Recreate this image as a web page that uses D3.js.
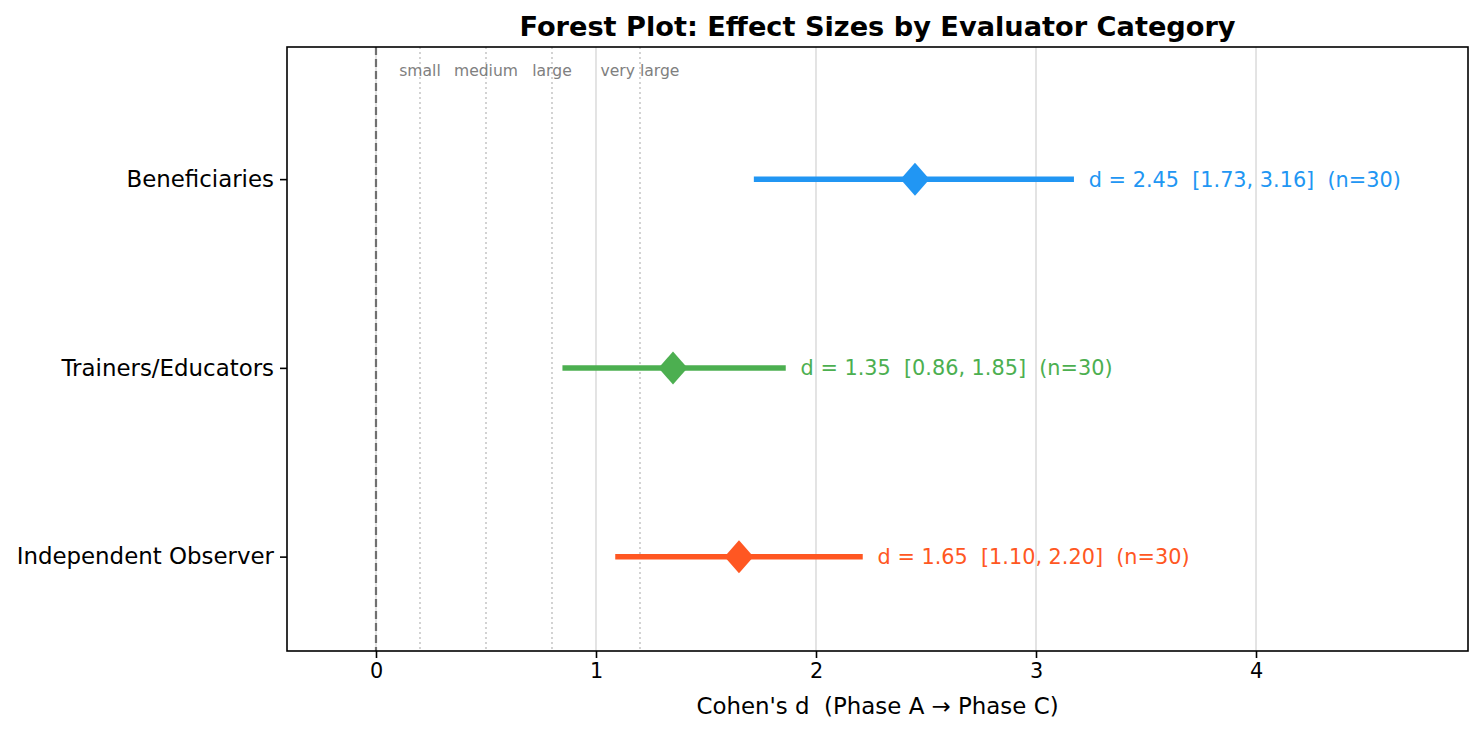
<!DOCTYPE html>
<html>
<head>
<meta charset="utf-8">
<script src="https://cdn.jsdelivr.net/npm/d3@7"></script>
<style>
  html, body { margin: 0; padding: 0; background: #fff; }
  svg { display: block; font-family: "DejaVu Sans", sans-serif; }
</style>
</head>
<body>
<svg id="chart" width="1484" height="733"></svg>
<script>
// ---- data ----
const categories = ["Independent Observer", "Trainers/Educators", "Beneficiaries"];
const effectD = [1.65, 1.35, 2.45];
const ciLow = [1.10, 0.86, 1.73];
const ciHigh = [2.20, 1.85, 3.16];
const sampleN = [30, 30, 30];
const colors = ["#FF5722", "#4CAF50", "#2196F3"];
const xTicks = [0, 1, 2, 3, 4];
const benchValues = [0.2, 0.5, 0.8, 1.2];
const benchLabels = ["small", "medium", "large", "very large"];
const titleText = "Forest Plot: Effect Sizes by Evaluator Category";
const xLabelText = "Cohen's d  (Phase A \u2192 Phase C)";

// ---- layout ----
const W = 1484, H = 733;
const m = { left: 287, right: 1468, top: 47, bottom: 651 };
const svg = d3.select("#chart");

const x = d3.scaleLinear().domain([-0.4045, 4.9636]).range([m.left, m.right]);
const y = d3.scaleLinear().domain([-0.5, 2.7]).range([m.bottom, m.top]);

// grid lines (solid, light)
svg.append("g").selectAll("line").data(xTicks).join("line")
  .attr("x1", d => x(d)).attr("x2", d => x(d))
  .attr("y1", m.top).attr("y2", m.bottom)
  .attr("stroke", "#dddddd").attr("stroke-width", 1.6);

// benchmark dotted lines
svg.append("g").selectAll("line").data(benchValues).join("line")
  .attr("x1", d => x(d)).attr("x2", d => x(d))
  .attr("y1", m.top).attr("y2", m.bottom)
  .attr("stroke", "#c8c8c8").attr("stroke-width", 1.6)
  .attr("stroke-dasharray", "2,3");

// benchmark labels
svg.append("g").selectAll("text").data(benchValues).join("text")
  .attr("x", d => x(d)).attr("y", 76)
  .attr("text-anchor", "middle")
  .attr("font-size", "15.6px").attr("fill", "#808080")
  .text((d, i) => benchLabels[i]);

// zero line
svg.append("line")
  .attr("x1", x(0)).attr("x2", x(0))
  .attr("y1", m.top).attr("y2", m.bottom)
  .attr("stroke", "#707070").attr("stroke-width", 2.2)
  .attr("stroke-dasharray", "8,4");

// CI lines
const rows = categories.map((c, i) => ({ c, i, d: effectD[i], lo: ciLow[i], hi: ciHigh[i], n: sampleN[i], col: colors[i] }));
svg.append("g").selectAll("line").data(rows).join("line")
  .attr("x1", r => x(r.lo)).attr("x2", r => x(r.hi))
  .attr("y1", r => y(r.i)).attr("y2", r => y(r.i))
  .attr("stroke", r => r.col).attr("stroke-width", 5.5)
  .attr("stroke-linecap", "square");

// diamonds
svg.append("g").selectAll("path").data(rows).join("path")
  .attr("d", r => {
    const cx = x(r.d), cy = y(r.i), hw = 14.5, hh = 16.5;
    return `M${cx},${cy - hh}L${cx + hw},${cy}L${cx},${cy + hh}L${cx - hw},${cy}Z`;
  })
  .attr("fill", r => r.col);

// annotations
svg.append("g").selectAll("text").data(rows).join("text")
  .attr("x", r => x(r.hi + 0.08)).attr("y", r => y(r.i))
  .attr("dy", "0.36em")
  .attr("font-size", "20.8px").attr("fill", r => r.col)
  .style("white-space", "pre")
  .text(r => `d = ${r.d.toFixed(2)}  [${r.lo.toFixed(2)}, ${r.hi.toFixed(2)}]  (n=${r.n})`);

// axes
const xAxis = d3.axisBottom(x).tickValues(xTicks).tickFormat(d3.format("d")).tickSizeInner(7).tickSizeOuter(0).tickPadding(5);
const gx = svg.append("g").attr("transform", `translate(0,${m.bottom})`).call(xAxis);
gx.select(".domain").remove();
gx.selectAll("line").attr("stroke", "#000").attr("stroke-width", 1.6);
gx.selectAll("text").attr("font-size", "20.8px").attr("fill", "#000").attr("font-family", "DejaVu Sans");

const yAxis = d3.axisLeft(y).tickValues(rows.map(r => r.i)).tickFormat(i => categories[i]).tickSizeInner(7).tickSizeOuter(0).tickPadding(6);
const gy = svg.append("g").attr("transform", `translate(${m.left},0)`).call(yAxis);
gy.select(".domain").remove();
gy.selectAll("line").attr("stroke", "#000").attr("stroke-width", 1.6);
gy.selectAll("text").attr("font-size", "22.9px").attr("fill", "#000").attr("font-family", "DejaVu Sans");

// frame
svg.append("rect")
  .attr("x", m.left).attr("y", m.top)
  .attr("width", m.right - m.left).attr("height", m.bottom - m.top)
  .attr("fill", "none").attr("stroke", "#000").attr("stroke-width", 1.6);

// title
svg.append("text")
  .attr("x", (m.left + m.right) / 2).attr("y", 36)
  .attr("text-anchor", "middle")
  .attr("font-size", "27.2px").attr("font-weight", "bold")
  .text(titleText);

// x label
svg.append("text")
  .attr("x", (m.left + m.right) / 2).attr("y", 714)
  .attr("text-anchor", "middle")
  .attr("font-size", "22.9px")
  .style("white-space", "pre")
  .text(xLabelText);
</script>
</body>
</html>
